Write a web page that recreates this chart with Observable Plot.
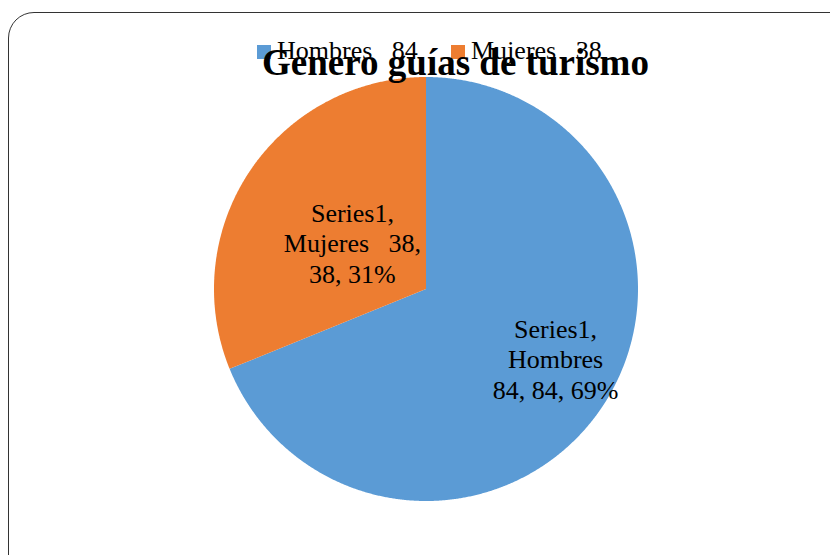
<!DOCTYPE html>
<html>
<head>
<meta charset="utf-8">
<script src="https://cdn.jsdelivr.net/npm/d3@7"></script>
<script src="https://cdn.jsdelivr.net/npm/@observablehq/plot@0.6"></script>
<style>
  html, body { margin: 0; padding: 0; background: #fff; }
  #wrap { position: relative; width: 830px; height: 555px; overflow: hidden; font-family: "Liberation Serif", serif; }
  #frame { position: absolute; left: 8px; top: 12px; width: 860px; height: 580px; border: 1.5px solid #333; border-radius: 26px; box-sizing: border-box; }
  #chart { position: absolute; left: 0; top: 0; }
  #chart svg, #chart svg text, #chart svg tspan { font-family: "Liberation Serif", serif !important; white-space: pre; }
  #legend { position: absolute; left: 257px; top: 38px; font-size: 26px; white-space: pre; color: #000; }
  .li { position: absolute; top: 0; white-space: pre; line-height: 26px; }
  .sw { position: absolute; top: 7px; width: 14px; height: 14px; }
  #title { position: absolute; left: 0; width: 911px; text-align: center; top: 43px; font-size: 37px; font-weight: bold; line-height: 40px; color: #000; white-space: nowrap; }
</style>
</head>
<body>
<div id="wrap">
  <div id="frame"></div>
  <div id="chart"></div>
  <div id="legend"></div>
  <div id="title"></div>
</div>
<script>
// ---- data ----
const titleText = "Genero guías de turismo";
const seriesName = "Series1";
const categories = ["Hombres   84", "Mujeres   38"];
const values = [84, 38];
const colors = ["#5B9BD5", "#ED7D31"];
// label text lines as shown on the slices
const labelLines = [
  ["Series1,", "Hombres", "84, 84, 69%"],
  ["Series1,", "Mujeres   38,", "38, 31%"]
];

// ---- layout ----
const W = 830, H = 555;
const cx = 425.5, cy = 288.5, R = 212;
const labelPos = [[0.611, -0.328], [-0.347, 0.219]]; // in radius units
const serif = "Liberation Serif";

const pie = d3.pie().sort(null).value(d => d.value)(categories.map((c, i) => ({name: c, value: values[i]})));

const polys = [];
pie.forEach(s => {
  const n = Math.max(2, Math.ceil((s.endAngle - s.startAngle) / 0.005));
  polys.push({name: s.data.name, x: 0, y: 0});
  for (let k = 0; k <= n; k++) {
    const a = s.startAngle + (s.endAngle - s.startAngle) * k / n;
    polys.push({name: s.data.name, x: Math.sin(a), y: Math.cos(a)});
  }
  polys.push({name: s.data.name, x: 0, y: 0});
});

const labels = pie.map((s, i) => ({
  name: s.data.name,
  x: labelPos[i][0], y: labelPos[i][1],
  text: labelLines[i].join("\n")
}));

const chart = Plot.plot({
  width: W, height: H,
  marginLeft: cx - R, marginRight: W - cx - R,
  marginTop: cy - R, marginBottom: H - cy - R,
  x: {domain: [-1, 1], axis: null},
  y: {domain: [-1, 1], axis: null},
  color: {domain: categories, range: colors},
  style: {fontFamily: serif, background: "transparent", overflow: "visible"},
  marks: [
    Plot.line(polys, {x: "x", y: "y", z: "name", fill: "name", stroke: null, curve: "linear"}),
    Plot.text(labels, {x: "x", y: "y", text: "text", fontSize: 26, fontFamily: serif, lineHeight: 1.17, fill: "#000", textAnchor: "middle", lineAnchor: "middle"})
  ]
});
document.getElementById("chart").appendChild(chart);

// legend
const legend = document.getElementById("legend");
const legX = [0, 194];
categories.forEach((c, i) => {
  const sw = document.createElement("div");
  sw.className = "sw";
  sw.style.left = legX[i] + "px";
  sw.style.background = colors[i];
  legend.appendChild(sw);
  const t = document.createElement("div");
  t.className = "li";
  t.style.left = (legX[i] + 20) + "px";
  t.textContent = c;
  legend.appendChild(t);
});
document.getElementById("title").textContent = titleText;
</script>
</body>
</html>
